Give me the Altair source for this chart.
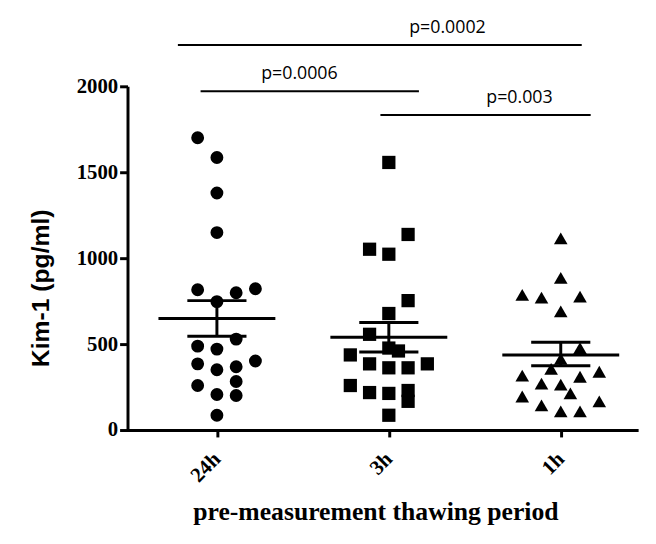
import altair as alt
import pandas as pd

# ---------------- data ----------------
groups = ["24h", "3h", "1h"]

values_24h = [1701, 1586, 1379, 1149, 816, 799, 822, 747, 529, 488,
              471, 385, 402, 351, 368, 282, 259, 207, 201, 86]
jitter_24h = [-1, 0, 0, 0, -1, 1, 2, 0, 1, -1,
              0, -1, 2, 0, 1, 1, -1, 0, 1, 0]

values_3h = [1557, 1138, 1052, 1023, 753, 678, 557, 477, 460, 437,
             385, 362, 362, 385, 259, 218, 213, 230, 167, 86]
jitter_3h = [0, 1, -1, 0, 1, 0, -1, 0, 0.5, -2,
             -1, 0, 1, 2, -2, -1, 0, 1, 1, 0]

values_1h = [1115, 885, 787, 770, 776, 690, 477, 414, 356, 316,
             310, 339, 270, 264, 213, 195, 167, 144, 109, 109]
jitter_1h = [0, 0, -2, -1, 1, 0, 1, 0, -0.5, -2,
             1, 2, -1, 0, 0.5, -2, 2, -1, 0, 1]

means = [649, 540, 437]
sem_low = [546, 454, 374]
sem_high = [753, 626, 511]

p_labels = ["p=0.0002", "p=0.0006", "p=0.003"]
p_x1 = [-0.227, -0.095, 0.951]
p_x2 = [2.122, 1.175, 2.174]
p_y = [2241, 1971, 1833]
p_text_x = [1.341, 0.48, 1.76]
p_text_y = [2310, 2040, 1902]

y_ticks = [0, 500, 1000, 1500, 2000]

# ---------------- tables ----------------
rows = []
for gi, (vals, jit) in enumerate([(values_24h, jitter_24h),
                                   (values_3h, jitter_3h),
                                   (values_1h, jitter_1h)]):
    for v, j in zip(vals, jit):
        rows.append({"group": groups[gi], "gi": gi, "value": v, "jit": j})
points = pd.DataFrame(rows)

stats = pd.DataFrame({"group": groups, "gi": [0, 1, 2], "mean": means,
                      "lo": sem_low, "hi": sem_high})
ann = pd.DataFrame({"label": p_labels, "x1": p_x1, "x2": p_x2, "y": p_y,
                    "tx": p_text_x, "ty": p_text_y})

STEP = 0.112
MEAN_HALF = 0.34
CAP_HALF = 0.172

label_js = "[" + ",".join("'%s'" % g for g in groups) + "]"

xscale = alt.Scale(domain=[-0.52, 2.45], nice=False, zero=False)
yscale = alt.Scale(domain=[0, 2000], nice=False)

x_axis = alt.Axis(orient="bottom", values=[0, 1, 2],
                  labelExpr=label_js + "[datum.value]",
                  title="pre-measurement thawing period", grid=False,
                  domainColor="black", domainWidth=3, tickColor="black",
                  tickWidth=3, tickSize=7, labelAngle=315, labelAlign="right",
                  labelBaseline="middle", labelPadding=19,
                  labelFont="Liberation Serif", labelFontWeight="bold",
                  labelFontSize=21, labelColor="black",
                  titleFont="Liberation Serif", titleFontWeight="bold",
                  titleFontSize=26, titleColor="black",
                  titleX=251, titleY=91, titleBaseline="alphabetic",
                  titleAlign="center")

y_axis = alt.Axis(orient="left", values=y_ticks, format="d",
                  title="Kim-1 (pg/ml)", grid=False,
                  domainColor="black", domainWidth=3, tickColor="black",
                  tickWidth=3, tickSize=8, labelPadding=2,
                  labelFont="Liberation Serif", labelFontWeight="bold",
                  labelFontSize=21, labelColor="black",
                  titleFont="Liberation Sans", titleFontWeight="bold",
                  titleFontSize=25, titleColor="black",
                  titleX=-88, titleY=204, titleBaseline="middle",
                  titleAlign="center", titleAngle=270)


def X(field):
    return alt.X(field, scale=xscale, axis=x_axis, title="pre-measurement thawing period")


def Y(field):
    return alt.Y(field, scale=yscale, axis=y_axis, title="Kim-1 (pg/ml)")


pts = alt.Chart(points).transform_calculate(
    xp="datum.gi + datum.jit * %f" % STEP
).mark_point(filled=True, opacity=1, color="black").encode(
    x=X("xp:Q"),
    y=Y("value:Q"),
    shape=alt.Shape("group:N", scale=alt.Scale(domain=groups,
                    range=["circle", "square", "triangle-up"]), legend=None),
    size=alt.Size("group:N", scale=alt.Scale(domain=groups,
                  range=[170, 190, 220]), legend=None),
)

base_s = alt.Chart(stats)

mean_line = base_s.transform_calculate(
    a="datum.gi - %f" % MEAN_HALF, b="datum.gi + %f" % MEAN_HALF
).mark_rule(color="black", strokeWidth=3).encode(
    x=X("a:Q"), x2="b:Q", y=Y("mean:Q"))

cap_hi = base_s.transform_calculate(
    a="datum.gi - %f" % CAP_HALF, b="datum.gi + %f" % CAP_HALF
).mark_rule(color="black", strokeWidth=3).encode(
    x=X("a:Q"), x2="b:Q", y=Y("hi:Q"))

cap_lo = base_s.transform_calculate(
    a="datum.gi - %f" % CAP_HALF, b="datum.gi + %f" % CAP_HALF
).mark_rule(color="black", strokeWidth=3).encode(
    x=X("a:Q"), x2="b:Q", y=Y("lo:Q"))

vbar = base_s.mark_rule(color="black", strokeWidth=3).encode(
    x=X("gi:Q"), y=Y("lo:Q"), y2="hi:Q")

base_a = alt.Chart(ann)
ann_rules = base_a.mark_rule(color="black", strokeWidth=2).encode(
    x=X("x1:Q"), x2="x2:Q", y=Y("y:Q"))
ann_text = base_a.mark_text(font="Open Sans", fontSize=18, color="black",
                            align="center", baseline="alphabetic").encode(
    x=X("tx:Q"), y=Y("ty:Q"), text="label:N")

chart = alt.layer(pts, mean_line, cap_hi, cap_lo, vbar, ann_rules, ann_text).properties(
    width=517, height=348,
    padding={"left": 121, "top": 76, "right": 10, "bottom": 104},
    autosize=alt.AutoSizeParams(type="none"),
).configure(background="white").configure_view(
    stroke="transparent", strokeWidth=0, strokeOpacity=0
).configure_axis(grid=False)

chart.save("out.html", embed_options={"renderer": "svg", "actions": False})
